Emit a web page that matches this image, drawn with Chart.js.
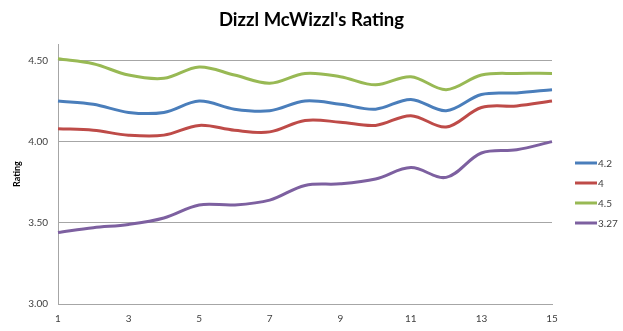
<!DOCTYPE html>
<html>
<head>
<meta charset="utf-8">
<script src="https://cdn.jsdelivr.net/npm/chart.js@4"></script>
<style>
  html, body { margin: 0; padding: 0; background: #fff; }
  #wrap { width: 623px; height: 331px; position: relative; }
</style>
</head>
<body>
<div id="wrap"><canvas id="c" width="623" height="331"></canvas></div>
<script>
// Game numbers along the x axis
const games = ['1','2','3','4','5','6','7','8','9','10','11','12','13','14','15'];

// Rating series, one per starting rating
const series42  = [4.25, 4.23, 4.18, 4.18, 4.25, 4.20, 4.19, 4.25, 4.23, 4.20, 4.26, 4.19, 4.29, 4.30, 4.32];
const series4   = [4.08, 4.07, 4.04, 4.04, 4.10, 4.07, 4.06, 4.13, 4.12, 4.10, 4.16, 4.09, 4.21, 4.22, 4.25];
const series45  = [4.51, 4.48, 4.41, 4.39, 4.46, 4.41, 4.36, 4.42, 4.40, 4.35, 4.40, 4.32, 4.41, 4.42, 4.42];
const series327 = [3.44, 3.47, 3.49, 3.53, 3.61, 3.61, 3.64, 3.73, 3.74, 3.77, 3.84, 3.78, 3.93, 3.95, 4.00];

const seriesNames = ['4.2', '4', '4.5', '3.27'];
const seriesColors = ['#4a7ebb', '#be4b48', '#98b954', '#7d60a0'];

// Gridline values on the rating axis
const ratingTicks = [3.0, 3.5, 4.0, 4.5];

const FONT = 'Lato, "Open Sans", sans-serif';

// Legend drawn as short line samples stacked at the right
const lineKey = {
  id: 'lineKey',
  afterDraw(chart) {
    const ctx = chart.ctx;
    const area = chart.chartArea;
    const x0 = area.right + 23;
    const y0 = 163;
    ctx.save();
    ctx.font = '10px ' + FONT;
    ctx.textBaseline = 'middle';
    chart.data.datasets.forEach((ds, i) => {
      const y = y0 + i * 20;
      ctx.strokeStyle = ds.borderColor;
      ctx.lineWidth = 3;
      ctx.beginPath();
      ctx.moveTo(x0, y);
      ctx.lineTo(x0 + 22, y);
      ctx.stroke();
      ctx.fillStyle = '#404040';
      ctx.fillText(ds.label, x0 + 23, y + 0.5);
    });
    ctx.restore();
  }
};

const allSeries = [series42, series4, series45, series327];

new Chart(document.getElementById('c'), {
  type: 'line',
  data: {
    labels: games,
    datasets: allSeries.map((vals, i) => ({
      label: seriesNames[i],
      data: vals,
      borderColor: seriesColors[i],
      backgroundColor: seriesColors[i],
      borderWidth: 3,
      pointRadius: 0,
      tension: 0.35,
      fill: false
    }))
  },
  options: {
    responsive: false,
    animation: false,
    layout: { padding: 0 },
    plugins: {
      legend: { display: false },
      tooltip: { enabled: false },
      title: {
        display: true,
        text: "Dizzl McWizzl's Rating",
        color: '#000',
        font: { family: FONT, size: 18.5, weight: 'bold' },
        padding: { top: 9, bottom: 13 }
      }
    },
    scales: {
      x: {
        type: 'category',
        offset: false,
        grid: { display: false, drawTicks: false },
        border: { display: true, color: '#a6a6a6', width: 1 },
        ticks: {
          autoSkip: false,
          maxRotation: 0,
          padding: 9,
          color: '#404040',
          font: { family: FONT, size: 10 },
          callback: (v, i) => (i % 2 === 0 ? games[i] : '')
        },
        afterFit: (s) => { s.height = 27; }
      },
      y: {
        min: 3.0,
        max: 4.6,
        afterBuildTicks: (s) => { s.ticks = ratingTicks.map(v => ({ value: v })); },
        grid: { color: '#a6a6a6', lineWidth: 1, drawTicks: false },
        border: { display: true, color: '#a6a6a6', width: 1 },
        ticks: {
          padding: 10,
          color: '#404040',
          font: { family: FONT, size: 10 },
          callback: (v) => Number(v).toFixed(2)
        },
        title: {
          display: true,
          text: 'Rating',
          color: '#000',
          font: { family: FONT, size: 9, weight: 'bold' },
          padding: { top: 12, bottom: 0 }
        },
        afterFit: (s) => { s.width = 58; }
      },
      // Empty right-hand band that holds the line legend
      legendBand: {
        type: 'linear',
        position: 'right',
        display: true,
        grid: { display: false, drawTicks: false },
        border: { display: false },
        ticks: { display: false },
        afterFit: (s) => { s.width = 71; }
      }
    }
  },
  plugins: [lineKey]
});
</script>
</body>
</html>
